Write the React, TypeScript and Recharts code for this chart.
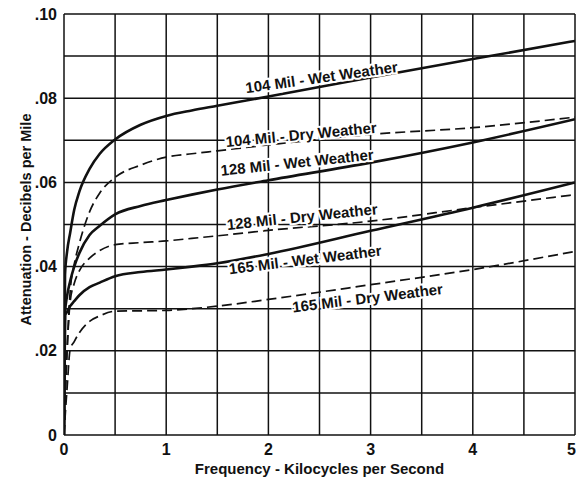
import { CartesianGrid, Label, Line, LineChart, ReferenceDot, XAxis, YAxis } from 'recharts'

// frequency in kilocycles per second
const freq = [0, 0.01, 0.03, 0.06, 0.1, 0.15, 0.25, 0.35, 0.5, 0.75, 1, 1.25, 1.5, 2, 3, 4, 5]

// attenuation in decibels per mile
const wet104 = [0, 0.038, 0.0435, 0.048, 0.0535, 0.0578, 0.0632, 0.0668, 0.0702, 0.0737, 0.0758, 0.0771, 0.0782, 0.0804, 0.0849, 0.0893, 0.0936]
const dry104 = [0, 0.008, 0.02, 0.034, 0.0405, 0.0455, 0.053, 0.0575, 0.0612, 0.0641, 0.066, 0.0668, 0.0675, 0.0689, 0.0714, 0.073, 0.0755]
const wet128 = [0, 0.029, 0.033, 0.0365, 0.04, 0.0432, 0.0475, 0.0497, 0.0524, 0.0544, 0.0558, 0.0571, 0.0583, 0.0605, 0.0647, 0.0695, 0.075]
const dry128 = [0, 0.008, 0.02, 0.0316, 0.036, 0.039, 0.042, 0.0438, 0.0452, 0.0457, 0.0461, 0.0467, 0.0473, 0.0486, 0.0508, 0.054, 0.0571]
const wet165 = [0, 0.0285, 0.0292, 0.0306, 0.0318, 0.0332, 0.0351, 0.0362, 0.0377, 0.0387, 0.0393, 0.04, 0.0408, 0.043, 0.0485, 0.054, 0.06]
const dry165 = [0, 0.004, 0.011, 0.0203, 0.0222, 0.0243, 0.027, 0.0283, 0.0294, 0.0295, 0.0296, 0.03, 0.0306, 0.0322, 0.0357, 0.0393, 0.0436]

const xTicks = [0, 0.5, 1, 1.5, 2, 2.5, 3, 3.5, 4, 4.5, 5]
const yTicks = [0, 0.01, 0.02, 0.03, 0.04, 0.05, 0.06, 0.07, 0.08, 0.09, 0.1]

const curveLabels = [
  { text: '104 Mil - Wet Weather', x: 2.52, y: 0.085, angle: -8 },
  { text: '104 Mil - Dry Weather', x: 2.32, y: 0.0714, angle: -5.5 },
  { text: '128 Mil - Wet Weather', x: 2.28, y: 0.0648, angle: -6 },
  { text: '128 Mil - Dry Weather', x: 2.33, y: 0.0519, angle: -6 },
  { text: '165 Mil - Wet Weather', x: 2.36, y: 0.0417, angle: -7 },
  { text: '165 Mil - Dry Weather', x: 2.97, y: 0.0326, angle: -7 },
]

const toPoints = (ys: number[]) => freq.map((f, i) => ({ f, v: ys[i] }))

const series = [
  { name: '104 wet', ys: wet104, dashed: false },
  { name: '104 dry', ys: dry104, dashed: true },
  { name: '128 wet', ys: wet128, dashed: false },
  { name: '128 dry', ys: dry128, dashed: true },
  { name: '165 wet', ys: wet165, dashed: false },
  { name: '165 dry', ys: dry165, dashed: true },
]

const font = '"Liberation Sans", Arial, sans-serif'

function CurveLabel(props: any) {
  const { viewBox, text, angle } = props
  const cx = viewBox.x + viewBox.width / 2
  const cy = viewBox.y + viewBox.height / 2
  return (
    <text
      x={cx}
      y={cy}
      textAnchor="middle"
      dominantBaseline="central"
      transform={`rotate(${angle} ${cx} ${cy})`}
      fontFamily={font}
      fontSize={15}
      fontWeight={600}
      fill="#111"
      stroke="#fff"
      strokeWidth={4}
      paintOrder="stroke"
    >
      {text}
    </text>
  )
}

function XTick(props: any) {
  const { x, y, payload } = props
  const v = payload.value
  if (!Number.isInteger(v)) return null
  const last = v === 5
  return (
    <text
      x={last ? 576 : x}
      y={y + 12}
      textAnchor={last ? 'end' : 'middle'}
      fontFamily={font}
      fontSize={16}
      fontWeight={600}
      fill="#111"
    >
      {v}
    </text>
  )
}

const fmtY = (v: number) => {
  const k = Math.round(v * 100)
  if (k % 2 !== 0) return ''
  if (k === 0) return '0'
  return '.' + String(k).padStart(2, '0')
}

function App() {
  return (
    <div style={{ position: 'absolute', left: 0, top: 0, background: '#fff' }}>
      <LineChart width={576} height={480} margin={{ top: 14, right: 1, left: 0, bottom: 0 }}>
        <CartesianGrid stroke="#111" strokeWidth={1.5} />
        <XAxis
          type="number"
          dataKey="f"
          domain={[0, 5]}
          ticks={xTicks}
          interval={0}
          height={45}
          axisLine={false}
          tickLine={false}
          tick={<XTick />}
          allowDataOverflow
        >
          <Label
            value="Frequency - Kilocycles per Second"
            position="insideBottom"
            offset={6}
            style={{ fill: '#111', fontSize: 15, fontWeight: 600, fontFamily: font }}
          />
        </XAxis>
        <YAxis
          type="number"
          domain={[0, 0.1]}
          ticks={yTicks}
          tickFormatter={fmtY}
          interval={0}
          width={64}
          axisLine={false}
          tickLine={false}
          tick={{ fill: '#111', fontSize: 16, fontWeight: 600, fontFamily: font }}
          tickMargin={1}
        >
          <Label
            value="Attenuation - Decibels per Mile"
            angle={-90}
            position="center"
            dx={-6}
            dy={-5}
            style={{ fill: '#111', fontSize: 14.5, fontWeight: 600, fontFamily: font, textAnchor: 'middle' }}
          />
        </YAxis>
        {series.map((s) => (
          <Line
            key={s.name}
            data={toPoints(s.ys)}
            dataKey="v"
            type="monotone"
            stroke="#111"
            strokeWidth={s.dashed ? 1.7 : 2.6}
            strokeDasharray={s.dashed ? '10 5' : undefined}
            dot={false}
            activeDot={false}
            isAnimationActive={false}
          />
        ))}
        {curveLabels.map((l) => (
          <ReferenceDot
            key={l.text}
            x={l.x}
            y={l.y}
            r={0}
            fill="none"
            stroke="none"
            label={(p: any) => <CurveLabel {...p} text={l.text} angle={l.angle} />}
          />
        ))}
      </LineChart>
    </div>
  )
}

export default App
